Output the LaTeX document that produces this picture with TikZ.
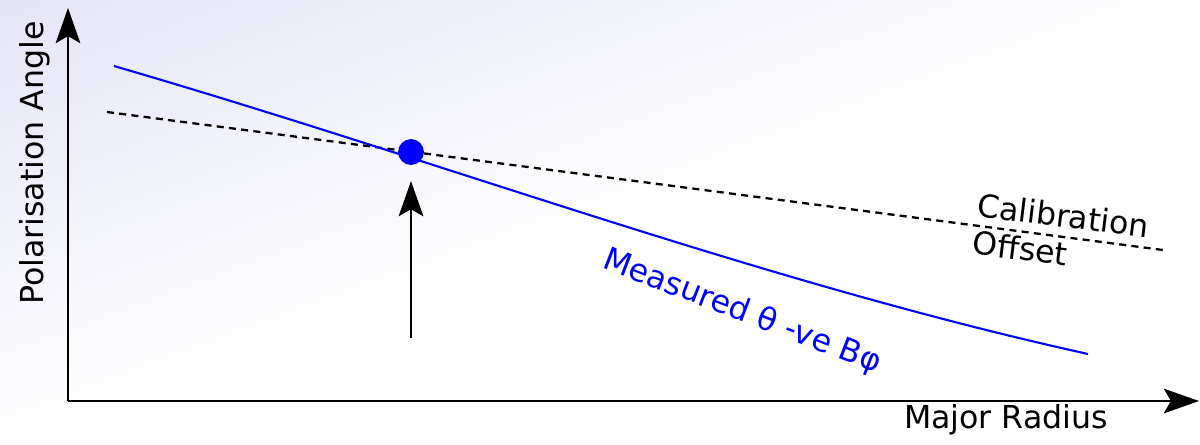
\documentclass[tikz,border=0pt]{standalone}
\usepackage{fontspec}
\setmainfont{DejaVu Sans}
\usetikzlibrary{arrows.meta}
\definecolor{bglav}{HTML}{E5E5F7}
\begin{document}
\begin{tikzpicture}[x=0.02cm,y=-0.02cm,font=\fontsize{18}{21.5}\selectfont,
 axisarrow/.style={line width=1.3pt,-{Stealth[length=20pt,width=14pt,inset=4pt]}}]
\fill[white] (0,0) rectangle (1200,444);
\useasboundingbox (0,0) rectangle (1200,444);
\begin{scope}
\clip (0,0) rectangle (1200,444);
\foreach \i [evaluate=\i as \a using \i/30, evaluate=\i as \b using (\i+1.1)/30, evaluate=\i as \p using 100-\i*100/30] in {0,...,29} {
 \fill[bglav!\p!white] ({1200*\a},0)--({1200*\b},0)--(0,{444*\b})--(0,{444*\a})--cycle;
}
\end{scope}
\coordinate (o) at (68,401);
\coordinate (ytip) at (68,8);
\coordinate (xtip) at (1199,401);
\draw[axisarrow] (o)--(ytip);
\draw[axisarrow] (o)--(xtip);
\node[rotate=90] (ylab) at (35,163) {Polarisation Angle};
\node (xlab) at (1006,420) {Major Radius};
\draw[line width=1.3pt,dash pattern=on 4pt off 3pt] (107,112)--(1163,250);
\draw[blue,line width=1.2pt] (114,66) .. controls (444,162) and (758,281) .. (1088,354);
\node[circle,fill=blue,inner sep=0pt,minimum size=14.7pt] (pt) at (411,152) {};
\coordinate (abase) at (411,338);
\draw[axisarrow,shorten >=9pt] (abase)--(pt);
\node[rotate=-7,align=left] (cal) at (1061,234) {Calibration\\Offset};
\node[rotate=-21,blue] (meas) at (742,312) {Measured θ -ve Bφ};
\end{tikzpicture}
\end{document}
